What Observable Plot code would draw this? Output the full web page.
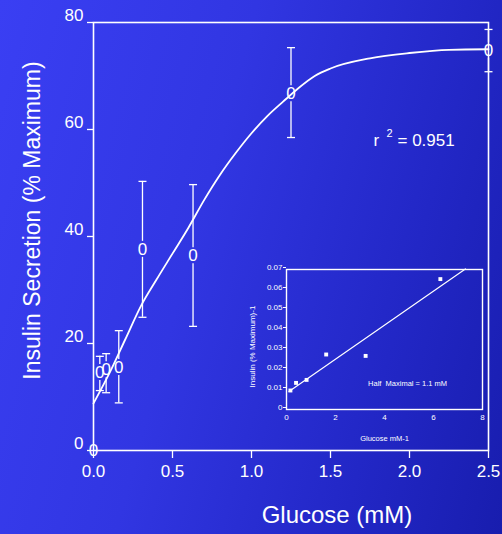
<!DOCTYPE html>
<html><head><meta charset="utf-8">
<script src="https://cdn.jsdelivr.net/npm/d3@7"></script>
<script src="https://cdn.jsdelivr.net/npm/@observablehq/plot@0.6"></script>
<style>
html,body{margin:0;padding:0;}
body{width:502px;height:534px;overflow:hidden;
  background:linear-gradient(105deg,#3a3ff3 0%,#3136e2 40%,#2227c6 75%,#181dae 100%);}
#wrap{position:relative;width:502px;height:534px;}
#main,#inset{position:absolute;}
#main{left:0;top:0;}
#inset{left:230px;top:255px;}
</style></head><body>
<div id="wrap"><div id="main"></div><div id="inset"></div></div>
<script>
// Main chart data
const glucose   = [0, 0.04, 0.08, 0.16, 0.31, 0.63, 1.25, 2.5];
const insulin   = [0, 14.6, 15.1, 15.5, 37.6, 36.4, 66.7, 74.8];
const errHigh   = [null, 17.6, 18.1, 22.4, 50.3, 49.7, 75.3, 78.7];
const errLow    = [null, 11.2, 10.8, 8.9, 24.9, 23.2, 58.5, 70.8];
const fitX = [0, 0.1, 0.2, 0.3, 0.4, 0.5, 0.6, 0.7, 0.8, 0.9, 1.0, 1.1, 1.2, 1.3, 1.4, 1.5, 1.75, 2.0, 2.25, 2.5];
const fitY = [8.8, 14.4, 20.7, 27, 32, 36.8, 41.6, 46.8, 51.5, 55.6, 59.3, 62.5, 65.2, 67.8, 70, 71.4, 73.3, 74.3, 74.9, 75];
const xTicks = [0, 0.5, 1.0, 1.5, 2.0, 2.5];
const xTickLabels = ["0.0", "0.5", "1.0", "1.5", "2.0", "2.5"];
const yTicks = [0, 20, 40, 60, 80];
const yTickLabels = ["0", "20", "40", "60", "80"];
const xTitle = "Glucose (mM)";
const yTitle = "Insulin Secretion (% Maximum)";
const r2Value = "= 0.951";

// Inset (double reciprocal) data
const invGlucose = [0.16, 0.39, 0.82, 1.62, 3.23, 6.28];
const invInsulin = [0.0095, 0.0133, 0.0148, 0.0275, 0.0268, 0.0652];
const invLineX = [0.1, 7.3];
const invLineY = [0.009, 0.0703];
const insetXTicks = [0, 2, 4, 6, 8];
const insetYTicks = [0, 0.01, 0.02, 0.03, 0.04, 0.05, 0.06, 0.07];
const insetYTickLabels = ["0", "0.01", "0.02", "0.03", "0.04", "0.05", "0.06", "0.07"];
const insetXTitle = "Glucose mM-1";
const insetYTitle = "Insulin (% Maximum)-1";
const halfMaxText = "Half  Maximal = 1.1 mM";

const FONT = "'Liberation Sans', Arial, Helvetica, sans-serif";
const rows = glucose.map((g, i) => ({g, ins: insulin[i], hi: errHigh[i], lo: errLow[i]}));
const bars = rows.filter(d => d.hi != null);
const fit = fitX.map((x, i) => ({x, y: fitY[i]}));
const cap = {draw(ctx, size) { const r = Math.sqrt(size / Math.PI); ctx.moveTo(-r, 0); ctx.lineTo(r, 0); }};
const r2Anchor = [{x: 1.772, y: 57.9}];

const main = Plot.plot({
  width: 502, height: 534,
  marginLeft: 93, marginRight: 14, marginTop: 22, marginBottom: 84,
  x: {domain: [0, 2.5]},
  y: {domain: [0, 80]},
  style: {background: "transparent", color: "white", fontFamily: FONT},
  marks: [
    Plot.axisX({ticks: xTicks, tickSize: 8, tickFormat: () => "", label: null, stroke: "white", strokeWidth: 1.3}),
    Plot.axisY({ticks: yTicks, tickSize: 6, tickFormat: () => "", label: null, stroke: "white", strokeWidth: 1.3}),
    Plot.text(xTicks, {x: d => d, text: (d, i) => xTickLabels[i], frameAnchor: "bottom", dy: 26, fontSize: 17, fill: "white"}),
    Plot.text(yTicks, {y: d => d, text: (d, i) => yTickLabels[i], frameAnchor: "left", dx: -10, dy: -7, textAnchor: "end", fontSize: 17, fill: "white"}),
    Plot.frame({stroke: "white", strokeWidth: 1.6}),
    Plot.line(fit, {x: "x", y: "y", curve: "monotone-x", stroke: "white", strokeWidth: 1.8}),
    Plot.ruleX(bars, {x: "g", y1: "hi", y2: "ins", insetBottom: 8, stroke: "white", strokeWidth: 1.3}),
    Plot.ruleX(bars, {x: "g", y1: "ins", y2: "lo", insetTop: 8, stroke: "white", strokeWidth: 1.3}),
    Plot.dot(bars, {x: "g", y: "hi", symbol: cap, r: 4, stroke: "white", strokeWidth: 1.3, fill: "none"}),
    Plot.dot(bars, {x: "g", y: "lo", symbol: cap, r: 4, stroke: "white", strokeWidth: 1.3, fill: "none"}),
    Plot.text(rows, {x: "g", y: "ins", text: () => "0", fontSize: 17, fill: "white"}),
    Plot.text(r2Anchor, {x: "x", y: "y", text: () => "r", textAnchor: "start", fontSize: 17, fill: "white"}),
    Plot.text(r2Anchor, {x: "x", y: "y", text: () => "2", textAnchor: "start", dx: 13, dy: -7, fontSize: 11, fill: "white"}),
    Plot.text(r2Anchor, {x: "x", y: "y", text: () => r2Value, textAnchor: "start", dx: 24, fontSize: 17, fill: "white"}),
    Plot.text([xTitle], {frameAnchor: "bottom", textAnchor: "middle", dx: 46, dy: 72, fontSize: 24, fill: "white"}),
    Plot.text([yTitle], {frameAnchor: "left", textAnchor: "middle", dx: -61, dy: -16, rotate: -90, fontSize: 23, fill: "white"})
  ]
});
document.getElementById("main").append(main);

const invPts = invGlucose.map((x, i) => ({x, y: invInsulin[i]}));
const invLine = invLineX.map((x, i) => ({x, y: invLineY[i]}));
const inset = Plot.plot({
  width: 262, height: 195,
  marginLeft: 56, marginRight: 10, marginTop: 14, marginBottom: 41,
  x: {domain: [0, 8]},
  y: {domain: [0, 0.07]},
  style: {background: "transparent", color: "white", fontFamily: FONT},
  marks: [
    Plot.axisY({ticks: insetYTicks, tickSize: 3, tickPadding: 1, fontSize: 8, dy: -2, tickFormat: (d, i) => insetYTickLabels[i], label: null, stroke: "white"}),
    Plot.axisX({ticks: insetXTicks, tickSize: 0, tickPadding: 5, fontSize: 8, label: null}),
    Plot.frame({stroke: "white", strokeWidth: 1.4}),
    Plot.line(invLine, {x: "x", y: "y", stroke: "white", strokeWidth: 1.2}),
    Plot.dot(invPts, {x: "x", y: "y", symbol: "square", r: 2.2, fill: "white"}),
    Plot.text([halfMaxText], {x: 4.94, y: 0.013, fontSize: 7.5, fill: "white"}),
    Plot.text([insetXTitle], {frameAnchor: "bottom", textAnchor: "middle", dy: 31, fontSize: 7.5, fill: "white"}),
    Plot.text([insetYTitle], {frameAnchor: "left", textAnchor: "middle", dx: -34, dy: 7, rotate: -90, fontSize: 8, fill: "white"})
  ]
});
document.getElementById("inset").append(inset);
</script>
</body></html>
